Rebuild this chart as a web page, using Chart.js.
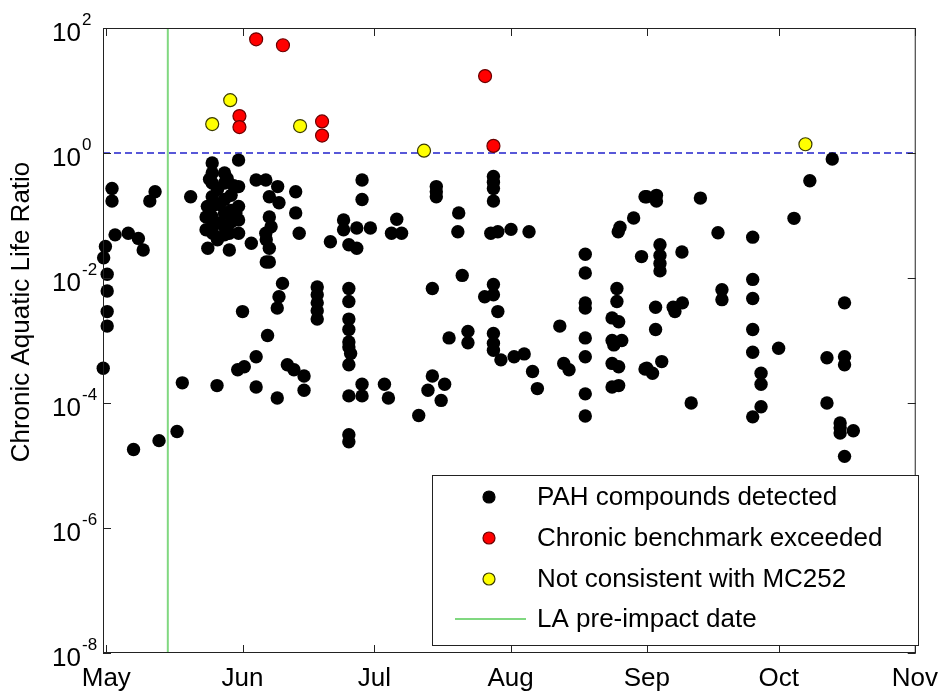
<!DOCTYPE html>
<html>
<head>
<meta charset="utf-8">
<script src="https://cdn.jsdelivr.net/npm/chart.js@4.4.1/dist/chart.umd.min.js"></script>
<style>
  html, body { margin: 0; padding: 0; background: #fff; }
  canvas { display: block; }
</style>
</head>
<body>
<canvas id="ratioChart" width="948" height="694"></canvas>
<script>
// days counted from May 1
const monthDays = [0, 31, 61, 92, 123, 153, 184];
const monthLabels = ['May', 'Jun', 'Jul', 'Aug', 'Sep', 'Oct', 'Nov'];
const decadeExps = [-8, -6, -4, -2, 0, 2];
const xMin = -0.75;
const xMax = 184.2;
const yMin = 1e-8;
const yMax = 1e2;
const preImpactDay = 14;
const benchmark = 1;

// [day, ratio]
const pahDetected = [
  [1.3, 0.27], [1.3, 0.17], [11.1, 0.24], [9.9, 0.17], [2.0, 0.049], [5.0, 0.052], [7.3, 0.043], [8.4, 0.028],
  [-0.2, 0.032], [-0.6, 0.021], [0.2, 0.0115], [0.2, 0.0062], [0.2, 0.0029], [0.2, 0.0017], [-0.7, 3.6e-4],
  [6.2, 1.8e-5], [12.0, 2.5e-5], [16.1, 3.5e-5], [17.3, 2.1e-4], [19.2, 0.20],
  [24.1, 0.69], [24.1, 0.48], [24.1, 0.33], [24.1, 0.20], [24.1, 0.14], [24.1, 0.095], [24.1, 0.066],
  [26.9, 0.48], [26.9, 0.33], [26.9, 0.18], [26.9, 0.11], [26.9, 0.066], [26.9, 0.049],
  [30.1, 0.77], [30.1, 0.29], [30.1, 0.14], [30.1, 0.085], [30.1, 0.052],
  [22.7, 0.095], [22.7, 0.059], [23.1, 0.030], [24.2, 0.052], [28.0, 0.052], [28.0, 0.028],
  [25.3, 0.26], [25.8, 0.15], [28.4, 0.21], [28.4, 0.12], [28.4, 0.079], [25.3, 0.041],
  [23.5, 0.38], [27.5, 0.39], [29.0, 0.30], [23.0, 0.14], [29.5, 0.11], [26.0, 0.075],
  [31.0, 0.0029], [25.2, 1.9e-4], [29.9, 3.4e-4], [31.4, 3.8e-4], [34.1, 5.5e-4], [34.1, 1.8e-4], [36.7, 0.0012],
  [33.0, 0.036], [36.4, 0.041], [36.4, 0.018], [34.1, 0.37], [36.3, 0.37], [39.0, 0.29], [37.1, 0.20],
  [39.3, 0.16], [37.1, 0.095], [37.5, 0.066], [36.3, 0.052], [37.1, 0.030], [37.1, 0.018],
  [43.1, 0.24], [43.1, 0.11], [43.9, 0.052],
  [40.1, 0.0082], [39.3, 0.0050], [38.9, 0.0033], [38.9, 1.2e-4], [41.2, 4.1e-4], [42.7, 3.4e-4], [45.0, 2.7e-4], [45.0, 1.6e-4],
  [48.0, 0.0072], [48.0, 0.0054], [48.0, 0.0040], [48.0, 0.0030], [48.0, 0.0022],
  [51.0, 0.038], [55.2, 0.034], [57.0, 0.030], [54.0, 0.085], [54.0, 0.059], [57.0, 0.063], [60.1, 0.063], [58.2, 0.37], [58.2, 0.18],
  [55.2, 0.0068], [55.2, 0.0042], [55.2, 0.0022], [55.2, 0.0015], [55.2, 9.5e-4], [55.2, 7.9e-4], [55.6, 6.2e-4], [55.2, 4.1e-4],
  [55.2, 1.3e-4], [58.2, 2.0e-4], [58.2, 1.3e-4], [55.2, 3.1e-5], [55.2, 2.4e-5],
  [63.3, 2.0e-4], [64.2, 1.2e-4], [64.9, 0.052], [67.2, 0.052], [66.1, 0.087],
  [80.2, 0.11], [80.0, 0.055], [75.1, 0.29], [75.1, 0.24], [75.1, 0.20],
  [74.2, 0.0068], [81.0, 0.011], [78.0, 0.0011], [82.3, 0.0014], [82.3, 9.2e-4],
  [74.2, 2.7e-4], [77.0, 2.0e-4], [73.2, 1.6e-4], [76.2, 1.1e-4], [71.1, 6.3e-5],
  [88.1, 0.42], [88.1, 0.34], [88.1, 0.27], [88.1, 0.17], [87.5, 0.052], [89.1, 0.055], [92.1, 0.060], [96.2, 0.055],
  [88.1, 0.0079], [86.1, 0.0050], [88.1, 0.0054], [89.1, 0.0029], [88.1, 0.0013], [88.1, 9.0e-4], [88.1, 7.0e-4],
  [89.8, 4.9e-4], [92.8, 5.5e-4], [95.1, 6.1e-4], [97.0, 3.2e-4], [98.1, 1.7e-4],
  [103.2, 0.0017], [104.1, 4.3e-4], [105.3, 3.4e-4],
  [109.0, 0.024], [109.0, 0.012], [109.0, 0.0040], [109.0, 0.0033], [109.0, 0.0011], [109.0, 5.5e-4], [109.0, 1.4e-4], [109.0, 6.2e-5],
  [116.2, 0.0068], [116.2, 0.0042], [115.1, 0.0023], [116.6, 0.0020], [115.1, 0.0010], [117.3, 0.0010], [115.5, 8.5e-4],
  [115.1, 4.3e-4], [116.6, 3.8e-4], [115.1, 1.8e-4], [116.6, 1.9e-4],
  [116.9, 0.065], [116.5, 0.055], [120.0, 0.091], [122.6, 0.20], [123.0, 0.20], [125.2, 0.21], [125.2, 0.17], [121.8, 0.022], [122.6, 3.5e-4],
  [126.0, 0.034], [126.0, 0.023], [126.0, 0.017], [126.0, 0.013], [131.0, 0.026],
  [125.0, 0.0034], [125.0, 0.0015], [129.0, 0.0034], [129.4, 0.0029], [131.1, 0.0040],
  [123.0, 3.6e-4], [124.3, 3.0e-4], [126.4, 4.6e-4], [133.1, 1.0e-4],
  [135.2, 0.19], [139.2, 0.053], [140.1, 0.0065], [140.1, 0.0045],
  [147.1, 0.045], [147.1, 0.0095], [147.1, 0.0047], [147.1, 0.0015], [147.1, 6.5e-4],
  [149.0, 3.0e-4], [149.0, 2.0e-4], [149.0, 8.7e-5], [147.1, 6.0e-5], [153.0, 7.5e-4],
  [156.5, 0.090], [160.1, 0.36], [165.2, 0.80],
  [168.0, 0.0040], [164.0, 5.3e-4], [168.0, 5.5e-4], [168.0, 4.1e-4], [164.0, 1.0e-4],
  [167.0, 4.8e-5], [167.0, 4.0e-5], [167.0, 3.3e-5], [170.0, 3.6e-5], [168.0, 1.4e-5]
];

const benchmarkExceeded = [
  [34.1, 66], [40.2, 53], [30.3, 3.9], [30.3, 2.6], [49.1, 3.2], [49.1, 1.9], [86.2, 17], [88.1, 1.3]
];

const notConsistent = [
  [24.1, 2.9], [28.2, 7.0], [44.1, 2.7], [72.3, 1.09], [159.1, 1.38]
];

const FONT = '"Liberation Sans", Arial, sans-serif';
const toPoints = rows => rows.map(([x, y]) => ({ x, y }));

const legendItems = [
  { label: 'PAH compounds detected', type: 'dot', fill: '#000000', stroke: '#000000' },
  { label: 'Chronic benchmark exceeded', type: 'dot', fill: '#ff0000', stroke: '#6a0000' },
  { label: 'Not consistent with MC252', type: 'dot', fill: '#ffff00', stroke: '#3a3a00' },
  { label: 'LA pre-impact date', type: 'line', stroke: '#80d880' }
];

// frame, inner ticks, y labels with exponents, axis title and legend box
const axesDecor = {
  id: 'axesDecor',
  afterDraw(chart) {
    const { ctx, chartArea: a, scales } = chart;
    const xs = scales.x, ys = scales.y;
    ctx.save();
    ctx.strokeStyle = '#222';
    ctx.lineWidth = 1;
    ctx.strokeRect(a.left + 0.5, a.top + 0.5, a.right - a.left - 1, a.bottom - a.top - 1);

    const tick = 8;
    ctx.beginPath();
    monthDays.forEach(d => {
      const px = Math.round(xs.getPixelForValue(d)) + 0.5;
      ctx.moveTo(px, a.bottom); ctx.lineTo(px, a.bottom - tick);
      ctx.moveTo(px, a.top); ctx.lineTo(px, a.top + tick);
    });
    decadeExps.forEach(e => {
      const py = Math.round(ys.getPixelForValue(Math.pow(10, e))) + 0.5;
      ctx.moveTo(a.left, py); ctx.lineTo(a.left + tick, py);
      ctx.moveTo(a.right, py); ctx.lineTo(a.right - tick, py);
    });
    ctx.stroke();

    // y tick labels: 10 with superscript exponent
    ctx.fillStyle = '#000';
    decadeExps.forEach(e => {
      const py = ys.getPixelForValue(Math.pow(10, e));
      ctx.font = '26px ' + FONT;
      ctx.textAlign = 'right';
      ctx.textBaseline = 'middle';
      ctx.fillText('10', 81, py + 6);
      ctx.font = '17px ' + FONT;
      ctx.textAlign = 'left';
      ctx.fillText(String(e), 82, py - 8);
    });

    // y axis title
    ctx.save();
    ctx.translate(22, 312);
    ctx.rotate(-Math.PI / 2);
    ctx.font = '26px ' + FONT;
    ctx.textAlign = 'center';
    ctx.textBaseline = 'middle';
    ctx.fillText('Chronic Aquatic Life Ratio', 0, 0);
    ctx.restore();

    // legend
    const box = { x: 432, y: 475, w: 486, h: 170 };
    ctx.fillStyle = '#fff';
    ctx.fillRect(box.x, box.y, box.w, box.h);
    ctx.strokeStyle = '#222';
    ctx.strokeRect(box.x + 0.5, box.y + 0.5, box.w, box.h);
    const rowY = [497, 538, 579, 619];
    legendItems.forEach((item, i) => {
      const y = rowY[i];
      if (item.type === 'dot') {
        ctx.beginPath();
        ctx.arc(489, y, 6, 0, Math.PI * 2);
        ctx.fillStyle = item.fill;
        ctx.fill();
        ctx.strokeStyle = item.stroke;
        ctx.lineWidth = 1.2;
        ctx.stroke();
      } else {
        ctx.beginPath();
        ctx.moveTo(455, y); ctx.lineTo(526, y);
        ctx.strokeStyle = item.stroke;
        ctx.lineWidth = 2;
        ctx.stroke();
      }
      ctx.fillStyle = '#000';
      ctx.font = '26px ' + FONT;
      ctx.textAlign = 'left';
      ctx.textBaseline = 'middle';
      ctx.fillText(item.label, 537, y + 1);
    });
    ctx.restore();
  }
};

new Chart(document.getElementById('ratioChart'), {
  type: 'scatter',
  data: {
    datasets: [
      {
        label: 'Not consistent with MC252',
        data: toPoints(notConsistent),
        backgroundColor: '#ffff00', borderColor: '#3a3a00', borderWidth: 1.2,
        pointRadius: 6.5, clip: false
      },
      {
        label: 'Chronic benchmark exceeded',
        data: toPoints(benchmarkExceeded),
        backgroundColor: '#ff0000', borderColor: '#6a0000', borderWidth: 1.2,
        pointRadius: 6.5, clip: false
      },
      {
        label: 'PAH compounds detected',
        data: toPoints(pahDetected),
        backgroundColor: '#000000', borderColor: '#000000', borderWidth: 0,
        pointRadius: 6.7, clip: false
      },
      {
        type: 'line',
        label: 'Benchmark',
        data: [{ x: xMin, y: benchmark }, { x: xMax, y: benchmark }],
        borderColor: '#2222cc', borderWidth: 1.6, borderDash: [7, 4],
        pointRadius: 0, fill: false
      },
      {
        type: 'line',
        label: 'LA pre-impact date',
        data: [{ x: preImpactDay, y: yMin }, { x: preImpactDay, y: yMax }],
        borderColor: '#80d880', borderWidth: 2,
        pointRadius: 0, fill: false
      }
    ]
  },
  options: {
    responsive: false,
    animation: false,
    devicePixelRatio: 1,
    layout: { padding: { left: 0, top: 28, right: 27, bottom: 0 } },
    plugins: {
      legend: { display: false },
      tooltip: { enabled: false }
    },
    scales: {
      x: {
        type: 'linear',
        min: xMin,
        max: xMax,
        grid: { display: false, drawTicks: false },
        border: { display: false },
        afterBuildTicks: scale => { scale.ticks = monthDays.map(v => ({ value: v })); },
        afterFit: scale => { scale.height = 41; },
        ticks: {
          autoSkip: false,
          maxRotation: 0,
          padding: 10,
          color: '#000',
          font: { family: FONT, size: 26 },
          callback: value => monthLabels[monthDays.indexOf(value)]
        }
      },
      y: {
        type: 'logarithmic',
        min: yMin,
        max: yMax,
        grid: { display: false, drawTicks: false },
        border: { display: false },
        ticks: { display: false },
        afterFit: scale => { scale.width = 103; }
      }
    }
  },
  plugins: [axesDecor]
});
</script>
</body>
</html>
